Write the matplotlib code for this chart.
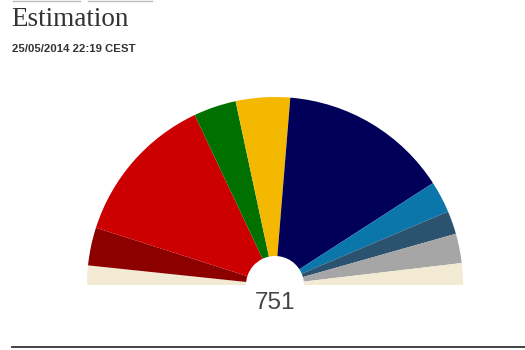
import matplotlib.pyplot as plt

plt.rcParams['font.family'] = ['Liberation Sans', 'DejaVu Sans']

# seats per group, left to right around the hemicycle
groups = ['Others', 'GUE/NGL', 'S&D', 'Greens/EFA', 'ALDE', 'EPP', 'ECR', 'EFD', 'NI', 'Others ']
seats = [25, 49, 196, 55, 70, 219, 41, 30, 38, 28]
colors = ['#f3ead4', '#8c0000', '#cc0000', '#007000', '#f5b800',
          '#000058', '#0b76aa', '#2b536f', '#a6a6a6', '#f3ead4']
total = sum(seats)

fig = plt.figure(figsize=(5.25, 3.5), dpi=100)
ax = fig.add_axes([0, 0, 1, 1])
ax.set_xlim(0, 525)
ax.set_ylim(0, 350)
ax.set_aspect('equal')
ax.axis('off')

# hidden lower half so the visible parties fill 180 degrees
vals = seats + [total]
cols = colors + ['none']
ax.pie(vals, colors=cols, startangle=180, counterclock=False,
       center=(275, 65), radius=188,
       wedgeprops=dict(width=188 - 29, linewidth=0))
ax.set_xlim(0, 525)
ax.set_ylim(0, 350)

ax.text(275, 47, str(total), ha='center', va='center', fontsize=17.5, color='#444444')

# header
ax.text(11, 331, 'Estimation', ha='left', va='center', fontsize=19.5,
        family='Liberation Serif', color='#333333')
ax.text(12, 301, '25/05/2014 22:19 CEST', ha='left', va='center', fontsize=8.2,
        fontweight='bold', color='#333333')
ax.plot([13, 80], [349.5, 349.5], color='#bbbbbb', lw=1)
ax.plot([88, 152], [349.5, 349.5], color='#bbbbbb', lw=1)

# bottom rule
ax.plot([12, 525], [3, 3], color='#333333', lw=1.3)

fig.savefig('out.png', dpi=100)
